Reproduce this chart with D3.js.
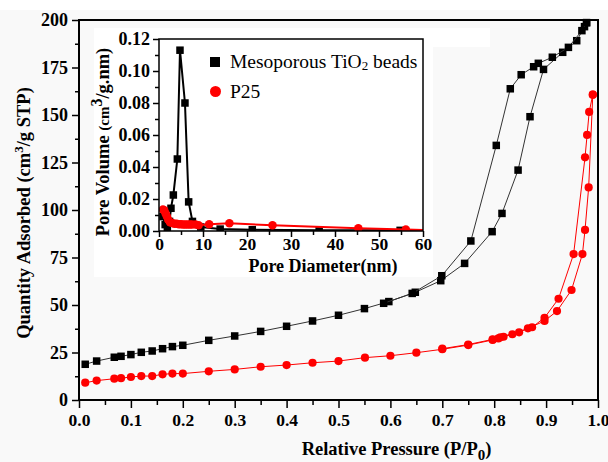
<!DOCTYPE html>
<html><head><meta charset="utf-8">
<script src="https://cdn.jsdelivr.net/npm/d3@7"></script>
<style>
html,body{margin:0;padding:0;background:#fafafa;}
svg{display:block;}
text{font-family:"Liberation Serif","Times New Roman",serif;}
</style></head>
<body>
<svg id="c" width="608" height="462"></svg>
<script>
// ---------- Main isotherm data (P/P0, cm3/g STP) ----------
const mesoAdsX = [0.012,0.034,0.068,0.081,0.100,0.120,0.141,0.161,0.180,0.200,0.250,0.300,0.350,0.400,0.450,0.500,0.550,0.597,0.648,0.697,0.743,0.796,0.815,0.846,0.869,0.895,0.932,0.959,0.974,0.978];
const mesoAdsY = [18.8,20.5,22.5,23.0,23.9,25.1,25.8,27.0,28.1,28.8,31.4,33.7,36.1,38.8,41.6,44.6,48.1,51.8,56.7,62.8,71.9,88.6,98.2,121.0,149.1,174.0,183.0,189.1,196.5,198.6];
const mesoDesX = [0.978,0.969,0.943,0.912,0.885,0.876,0.852,0.831,0.804,0.755,0.699,0.642,0.587];
const mesoDesY = [198.6,194.4,185.6,180.4,177.2,175.4,171.2,163.8,134.0,83.7,65.4,56.1,50.9];

const p25AdsX = [0.012,0.034,0.068,0.081,0.100,0.120,0.141,0.161,0.180,0.200,0.250,0.300,0.350,0.400,0.450,0.500,0.551,0.600,0.650,0.700,0.750,0.797,0.808,0.818,0.835,0.848,0.865,0.897,0.921,0.949,0.970,0.975,0.982,0.990];
const p25AdsY = [9.1,10.2,11.2,11.5,12.1,12.6,12.6,13.5,13.9,13.9,15.1,16.1,17.5,18.4,19.6,20.5,22.3,23.3,24.9,26.7,28.9,31.6,32.4,33.3,34.6,35.6,37.7,41.6,46.8,57.9,76.8,89.5,111.9,160.7];
const p25DesX = [0.990,0.983,0.979,0.975,0.953,0.924,0.897,0.873,0.812,0.797,0.750,0.700];
const p25DesY = [160.7,151.6,139.5,127.7,76.8,53.3,43.3,38.3,33.0,31.9,29.2,27.0];

// ---------- Inset pore size distribution (nm, cm3/g.nm) ----------
const mesoPsdX = [0.9,1.4,1.9,2.4,2.72,3.26,4.17,4.77,5.9,6.74,7.6,9.5,13.9,21.2,36.4,54.8,66];
const mesoPsdY = [0.009,0.004,0.002,0.006,0.0142,0.0225,0.045,0.113,0.080,0.0182,0.006,0.0025,0.0012,0.0008,0.0005,0.0004,0.0003];
const p25PsdX = [0.9,1.2,1.5,1.8,2.1,2.5,3.0,3.5,4.0,4.5,5.0,5.5,6.0,6.5,7.0,7.5,8.3,9.0,11.4,16.0,25.8,45.3,56.1,66];
const p25PsdY = [0.0135,0.013,0.011,0.009,0.007,0.0055,0.005,0.0045,0.0045,0.0042,0.0042,0.004,0.004,0.004,0.004,0.004,0.004,0.0036,0.0042,0.0048,0.0036,0.0017,0.0009,0.0004];

// ---------- Tick values ----------
const mainXTicks = [0,0.1,0.2,0.3,0.4,0.5,0.6,0.7,0.8,0.9,1.0];
const mainYTicks = [0,25,50,75,100,125,150,175,200];
const insetXTicks = [0,10,20,30,40,50,60];
const insetYTicks = [0,0.02,0.04,0.06,0.08,0.10,0.12];
const legendLabels = ["Mesoporous TiO", "P25"];

const svg = d3.select("#c");
const W = 608, H = 462;
const BLACK = "#000", RED = "#ff0000";

// backgrounds
svg.append("rect").attr("x",0).attr("y",0).attr("width",W).attr("height",H).attr("fill","#f9f9f9");
svg.append("rect").attr("x",0).attr("y",0).attr("width",W).attr("height",10).attr("fill","#ffffff");
svg.append("rect").attr("x",94).attr("y",28).attr("width",339).attr("height",249).attr("fill","#ffffff");
svg.append("rect").attr("x",433).attr("y",28).attr("width",57).attr("height",19).attr("fill","#ffffff");

// ---------- Main chart ----------
const m = {l:79, t:20, r:598, b:400};
const x = d3.scaleLinear().domain([0,1]).range([m.l,m.r]);
const y = d3.scaleLinear().domain([0,200]).range([m.b,m.t]);

const mainG = svg.append("g");
svg.append("defs").append("clipPath").attr("id","mainClip")
  .append("rect").attr("x",m.l).attr("y",m.t-6).attr("width",m.r-m.l).attr("height",m.b-m.t+6);

function styleAxis(g, fs){
  g.selectAll("path").remove();
  g.selectAll("line").attr("stroke","#000").attr("stroke-width",1.5);
  g.selectAll("text").attr("font-size",fs).attr("font-weight","bold").attr("fill","#000")
    .style("font-family",'"Liberation Serif","Times New Roman",serif');
}

// minor ticks
const xMinor = mainXTicks.slice(0,-1).map(v=>v+0.05);
const yMinor = mainYTicks.slice(0,-1).map(v=>v+12.5);
mainG.append("g").attr("transform",`translate(0,${m.b})`)
  .call(d3.axisBottom(x).tickValues(xMinor).tickSize(5).tickFormat(""))
  .call(g=>styleAxis(g,17));
mainG.append("g").attr("transform",`translate(${m.l},0)`)
  .call(d3.axisLeft(y).tickValues(yMinor).tickSize(4).tickFormat(""))
  .call(g=>styleAxis(g,17));
mainG.append("g").attr("transform",`translate(0,${m.b})`)
  .call(d3.axisBottom(x).tickValues(mainXTicks).tickSize(8).tickPadding(6).tickFormat(d3.format(".1f")))
  .call(g=>styleAxis(g,17.5));
mainG.append("g").attr("transform",`translate(${m.l},0)`)
  .call(d3.axisLeft(y).tickValues(mainYTicks).tickSize(7).tickPadding(4).tickFormat(d3.format("d")))
  .call(g=>styleAxis(g,18));

const zip = (a,b)=>a.map((v,i)=>[v,b[i]]);
const dataG = svg.append("g").attr("clip-path","url(#mainClip)");

function drawSeries(g, xs, ys, sx, sy, color, lw, shape, size){
  const pts = zip(xs,ys);
  g.append("path").datum(pts).attr("fill","none").attr("stroke",color).attr("stroke-width",lw)
    .attr("d", d3.line().x(d=>sx(d[0])).y(d=>sy(d[1])));
  if(shape==="square"){
    g.selectAll(null).data(pts).enter().append("rect")
      .attr("x",d=>sx(d[0])-size/2).attr("y",d=>sy(d[1])-size/2)
      .attr("width",size).attr("height",size).attr("fill",color);
  } else {
    g.selectAll(null).data(pts).enter().append("circle")
      .attr("cx",d=>sx(d[0])).attr("cy",d=>sy(d[1])).attr("r",size/2).attr("fill",color);
  }
}
drawSeries(dataG, p25AdsX, p25AdsY, x, y, RED, 1, "circle", 8.2);
drawSeries(dataG, p25DesX, p25DesY, x, y, RED, 1, "circle", 8.2);
drawSeries(dataG, mesoAdsX, mesoAdsY, x, y, "#333", 1, "square", 7.5);
drawSeries(dataG, mesoDesX, mesoDesY, x, y, "#333", 1, "square", 7.5);
dataG.selectAll("rect").attr("fill","#000");

// frame
svg.append("rect").attr("x",m.l).attr("y",m.t).attr("width",m.r-m.l).attr("height",m.b-m.t)
  .attr("fill","none").attr("stroke","#000").attr("stroke-width",2);

// axis titles
const xt = svg.append("text").attr("x",(m.l+m.r)/2+58).attr("y",455).attr("text-anchor","middle")
  .attr("font-size",18.5).attr("font-weight","bold");
xt.append("tspan").text("Relative Pressure (P/P");
xt.append("tspan").text("0").attr("font-size",15).attr("dy",5);
xt.append("tspan").text(")").attr("dy",-5);

const yt = svg.append("text").attr("transform","translate(30,213) rotate(-90)").attr("text-anchor","middle")
  .attr("font-size",18.5).attr("font-weight","bold");
yt.append("tspan").text("Quantity Adsorbed (cm");
yt.append("tspan").text("3").attr("font-size",13).attr("dy",-7);
yt.append("tspan").text("/g STP)").attr("dy",7);

// ---------- Inset ----------
const n = {l:159, t:39, r:423, b:231};
const ix = d3.scaleLinear().domain([0,60]).range([n.l,n.r]);
const iy = d3.scaleLinear().domain([0,0.12]).range([n.b,n.t]);
svg.select("defs").append("clipPath").attr("id","insetClip")
  .append("rect").attr("x",n.l).attr("y",n.t).attr("width",n.r-n.l).attr("height",n.b-n.t);

const insG = svg.append("g");
insG.append("g").attr("transform",`translate(0,${n.b})`)
  .call(d3.axisBottom(ix).tickValues(insetXTicks.slice(0,-1).map(v=>v+5)).tickSize(4).tickFormat(""))
  .call(g=>styleAxis(g,17));
insG.append("g").attr("transform",`translate(${n.l},0)`)
  .call(d3.axisLeft(iy).tickValues(insetYTicks.slice(0,-1).map(v=>v+0.01)).tickSize(4).tickFormat(""))
  .call(g=>styleAxis(g,17));
insG.append("g").attr("transform",`translate(0,${n.b})`)
  .call(d3.axisBottom(ix).tickValues(insetXTicks).tickSize(6).tickPadding(1).tickFormat(d3.format("d")))
  .call(g=>styleAxis(g,17.5));
insG.append("g").attr("transform",`translate(${n.l},0)`)
  .call(d3.axisLeft(iy).tickValues(insetYTicks).tickSize(6).tickPadding(3).tickFormat(d3.format(".2f")))
  .call(g=>styleAxis(g,18));

const insData = svg.append("g").attr("clip-path","url(#insetClip)");
drawSeries(insData, mesoPsdX, mesoPsdY, ix, iy, BLACK, 2, "square", 7.5);
drawSeries(insData, p25PsdX, p25PsdY, ix, iy, RED, 2, "circle", 8.5);

svg.append("rect").attr("x",n.l).attr("y",n.t).attr("width",n.r-n.l).attr("height",n.b-n.t)
  .attr("fill","none").attr("stroke","#000").attr("stroke-width",1.5);

// inset titles
svg.append("text").attr("x",323).attr("y",272).attr("text-anchor","middle")
  .attr("font-size",18).attr("font-weight","bold").text("Pore Diameter(nm)");
const iyt = svg.append("text").attr("transform","translate(109,142) rotate(-90)").attr("text-anchor","middle")
  .attr("font-size",18.5).attr("font-weight","bold");
iyt.append("tspan").text("Pore Volume ");
iyt.append("tspan").text("(cm").attr("font-size",15);
iyt.append("tspan").text("3").attr("font-size",16).attr("dy",-7);
iyt.append("tspan").text("/g.nm)").attr("dy",7);

// legend
const lg = svg.append("g");
lg.append("rect").attr("x",215-5).attr("y",62-5).attr("width",10).attr("height",10).attr("fill",BLACK);
const l1 = lg.append("text").attr("x",230).attr("y",68).attr("font-size",19.5);
l1.append("tspan").text(legendLabels[0]);
l1.append("tspan").text("2").attr("font-size",13).attr("dy",2);
l1.append("tspan").text(" beads").attr("dy",-2);
lg.append("circle").attr("cx",215.5).attr("cy",91.5).attr("r",5.5).attr("fill",RED);
lg.append("text").attr("x",230).attr("y",98).attr("font-size",19.5).text(legendLabels[1]);
</script>
</body></html>
